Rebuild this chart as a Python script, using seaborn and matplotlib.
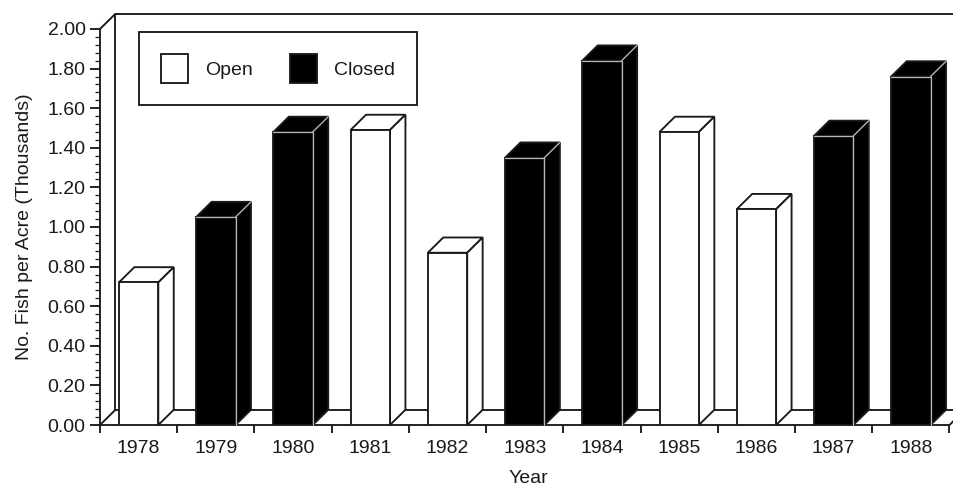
import matplotlib
matplotlib.use("Agg")
import matplotlib.pyplot as plt
from matplotlib.patches import Polygon, Patch
from matplotlib.ticker import MultipleLocator, FixedLocator, FuncFormatter
import seaborn as sns
import pandas as pd

# Fish density by year, with fishing status for the season
years = ["1978", "1979", "1980", "1981", "1982", "1983", "1984", "1985", "1986", "1987", "1988"]
status = ["Open", "Closed", "Closed", "Open", "Open", "Closed", "Closed", "Open", "Open", "Closed", "Closed"]
fish = [0.72, 1.05, 1.48, 1.49, 0.87, 1.35, 1.84, 1.48, 1.09, 1.46, 1.76]

df = pd.DataFrame({"Year": years, "Status": status, "Fish": fish})

sns.set_theme(style="ticks")
plt.rcParams["font.family"] = ["Liberation Sans", "DejaVu Sans"]

INK = "#1a1a1a"
LW = 1.35
fs = 14

fig = plt.figure(figsize=(9.54, 4.88), dpi=100)
W, H = 954, 488
ax = fig.add_axes([100 / W, (H - 425) / H, 849.5 / W, 396 / H])

colors = {"Open": "white", "Closed": "black"}
sns.barplot(data=df, x="Year", y="Fish", hue="Status", order=years,
            palette=colors, dodge=False, width=0.51, edgecolor=INK,
            linewidth=LW, legend=False, ax=ax, zorder=3)

ax.set_xlim(-0.5, 10.5)
ax.set_ylim(0, 2.0)

# depth of the pseudo-3D extrusion, in data units
dx, dy = 0.2, 0.077

# floor and back wall of the box
ymax = 2.0
x_left, x_right = -0.5, 10.5
frame_kw = dict(color=INK, lw=LW, clip_on=False, solid_capstyle="butt")
ax.plot([x_left, x_left + dx], [0, dy], zorder=1, **frame_kw)
ax.plot([x_right, x_right + dx], [0, dy], zorder=1, **frame_kw)
ax.plot([x_left + dx, x_right + dx], [dy, dy], zorder=1, **frame_kw)
ax.plot([x_left + dx, x_left + dx], [dy, ymax + dy], zorder=1, **frame_kw)
ax.plot([x_left, x_left + dx], [ymax, ymax + dy], zorder=1, **frame_kw)
ax.plot([x_left + dx, x_right + dx], [ymax + dy, ymax + dy], zorder=1, **frame_kw)

# top and side faces of each bar
for p in ax.patches:
    x0 = p.get_x()
    x1 = x0 + p.get_width()
    h = p.get_height()
    fc = p.get_facecolor()
    dark = fc[0] < 0.5
    top = Polygon([(x0, h), (x1, h), (x1 + dx, h + dy), (x0 + dx, h + dy)],
                  closed=True, facecolor=fc, edgecolor=INK, lw=LW,
                  zorder=2.9, clip_on=False, joinstyle="miter")
    side = Polygon([(x1, 0), (x1 + dx, dy), (x1 + dx, h + dy), (x1, h)],
                   closed=True, facecolor=fc, edgecolor=INK, lw=LW,
                   zorder=2.9, clip_on=False, joinstyle="miter")
    ax.add_patch(top)
    ax.add_patch(side)
    if dark:
        edge_kw = dict(color="#b8b8b8", lw=0.9, zorder=4, clip_on=False)
        ax.plot([x0, x1], [h, h], **edge_kw)
        ax.plot([x1, x1], [0, h], **edge_kw)
        ax.plot([x1, x1 + dx], [h, h + dy], **edge_kw)

# axes styling
sns.despine(ax=ax, top=True, right=True)
for s in ("left", "bottom"):
    ax.spines[s].set_color(INK)
    ax.spines[s].set_linewidth(LW)

ax.yaxis.set_major_locator(MultipleLocator(0.2))
ax.yaxis.set_minor_locator(MultipleLocator(0.04))
ax.yaxis.set_major_formatter(FuncFormatter(lambda v, _: f"{v:.2f}"))
ax.tick_params(axis="y", which="major", length=7.2, width=LW, color=INK,
               labelsize=fs, pad=3.2, labelcolor=INK)
ax.tick_params(axis="y", which="minor", length=3.6, width=0.9, color=INK)

ax.xaxis.set_minor_locator(FixedLocator([i - 0.5 for i in range(len(years) + 1)]))
ax.tick_params(axis="x", which="major", length=0, labelsize=fs, pad=11,
               labelcolor=INK)
ax.tick_params(axis="x", which="minor", length=5.8, width=LW, color=INK)

ax.set_xlabel("Year", fontsize=fs, color=INK)
ax.set_ylabel("No. Fish per Acre (Thousands)", fontsize=fs, color=INK)
ax.xaxis.set_label_coords(0.504, -0.113)
ax.yaxis.set_label_coords(-0.079, 0.5)

handles = [Patch(facecolor="white", edgecolor=INK, lw=LW, label="Open"),
           Patch(facecolor="black", edgecolor=INK, lw=LW, label="Closed")]
leg = fig.legend(handles=handles, loc="upper left",
                 bbox_to_anchor=(139 / W, 1 - 32 / H), bbox_transform=fig.transFigure,
                 ncol=2, frameon=True, fancybox=False, fontsize=fs,
                 handlelength=1.39, handleheight=1.9, handletextpad=0.87,
                 columnspacing=1.9, borderpad=1.13, borderaxespad=0)
leg.get_frame().set_edgecolor(INK)
leg.get_frame().set_linewidth(LW)
leg.get_frame().set_facecolor("white")
leg.get_frame().set_alpha(1)
for t in leg.get_texts():
    t.set_color(INK)

fig.savefig("out.png", dpi=100, facecolor="white")
